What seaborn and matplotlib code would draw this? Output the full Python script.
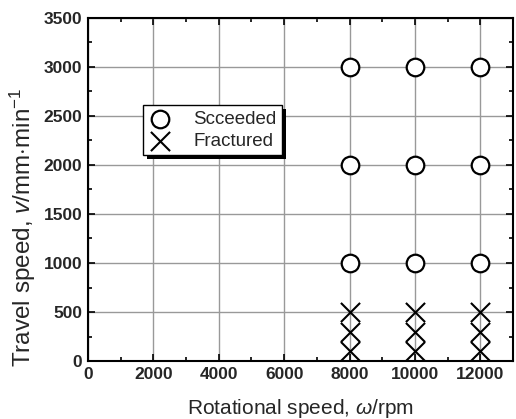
import matplotlib
matplotlib.use("Agg")
import matplotlib.pyplot as plt
import matplotlib.patheffects as pe
from matplotlib.ticker import MultipleLocator
import seaborn as sns
import pandas as pd

# Data
rot_speeds = [8000, 10000, 12000]
succeeded_speeds = [1000, 2000, 3000]
fractured_speeds = [100, 300, 500]
labels = ["Scceeded", "Fractured"]

rows = []
for w in rot_speeds:
    for v in succeeded_speeds:
        rows.append((w, v, labels[0]))
    for v in fractured_speeds:
        rows.append((w, v, labels[1]))
df = pd.DataFrame(rows, columns=["omega", "v", "result"])

sns.set_style("ticks")
plt.rcParams['font.family'] = ['Liberation Sans', 'DejaVu Sans']
plt.rcParams['mathtext.fontset'] = 'custom'
plt.rcParams['mathtext.rm'] = 'Liberation Sans'
plt.rcParams['mathtext.it'] = 'Liberation Sans:italic'

fig = plt.figure(figsize=(5.16, 4.19), dpi=100)
ax = fig.add_axes([88/516, 1-361/419, 425/516, 343/419])

ax.grid(True, which='major', color='#999999', linewidth=1.0, zorder=0)
ax.set_axisbelow(True)

sub_s = df[df.result == labels[0]]
sub_f = df[df.result == labels[1]]
sns.scatterplot(data=sub_s, x="omega", y="v", marker='o', s=160,
                facecolor='white', edgecolor='black', linewidth=1.6,
                ax=ax, label=labels[0], zorder=3, clip_on=False)
sns.scatterplot(data=sub_f, x="omega", y="v", marker='x', s=190,
                color='black', linewidth=1.5,
                ax=ax, label=labels[1], zorder=3, clip_on=False)

ax.set_xlim(0, 13000)
ax.set_ylim(0, 3500)
ax.xaxis.set_major_locator(MultipleLocator(2000))
ax.xaxis.set_minor_locator(MultipleLocator(1000))
ax.yaxis.set_major_locator(MultipleLocator(500))
ax.yaxis.set_minor_locator(MultipleLocator(250))
ax.tick_params(which='both', direction='in', top=True, right=True,
               color='black', width=1.2)
ax.tick_params(which='major', length=5, labelsize=12.5, pad=4)
ax.tick_params(which='minor', length=3)
for lab in ax.get_xticklabels() + ax.get_yticklabels():
    lab.set_fontweight('bold')
for sp in ax.spines.values():
    sp.set_linewidth(1.5)
    sp.set_color('black')

ax.set_xlabel(r"Rotational speed, $\it{\omega}$/rpm", fontsize=15)
ax.set_ylabel(r"Travel speed, $\it{v}$/mm$\cdot$min$^{-1}$", fontsize=17.5)
ax.xaxis.set_label_coords(0.5, -0.105)
ax.yaxis.set_label_coords(-0.118, 0.39)

leg = ax.legend(loc='upper left', bbox_to_anchor=(0.129, 0.746), borderaxespad=0,
                frameon=True, fancybox=False, edgecolor='black', framealpha=1,
                fontsize=13.5, handletextpad=1.2, borderpad=0.3, labelspacing=0.25,
                handlelength=1.2)
leg.get_frame().set_linewidth(1.0)
leg.get_frame().set_path_effects([pe.SimplePatchShadow(offset=(3, -3), shadow_rgbFace='black', alpha=1), pe.Normal()])

fig.savefig("out.png", dpi=100)
